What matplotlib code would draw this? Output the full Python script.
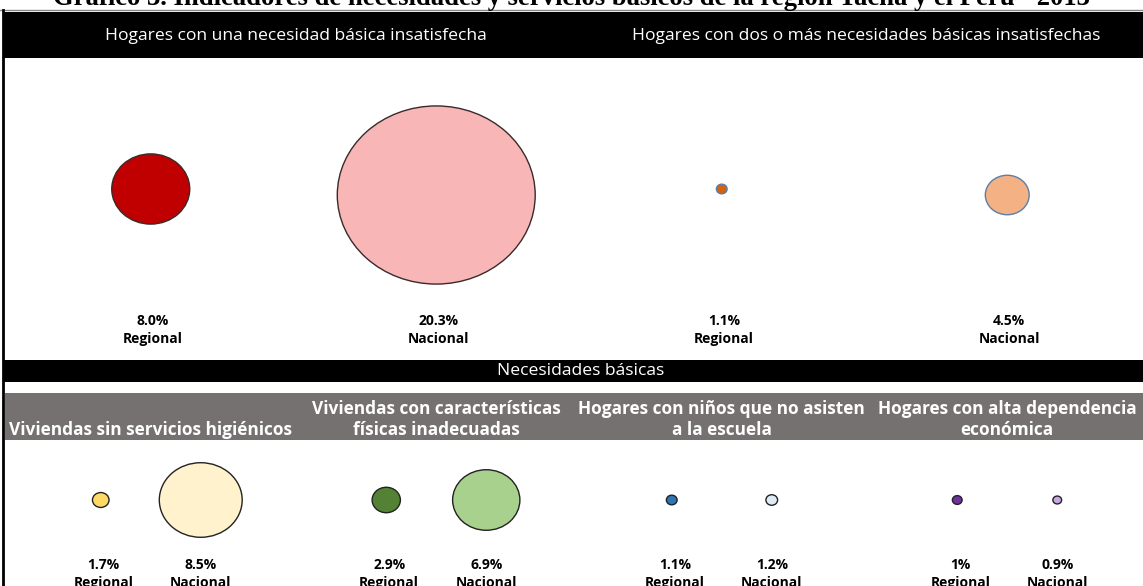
import matplotlib
matplotlib.use("Agg")
import matplotlib.pyplot as plt
from matplotlib.patches import Ellipse, Rectangle

plt.rcParams['font.family'] = ['Open Sans', 'DejaVu Sans']

# data
title = "Gráfico 3. Indicadores de necesidades y servicios básicos de la región Tacna y el Perú - 2013"
top_groups = ["Hogares con una necesidad básica insatisfecha",
              "Hogares con dos o más necesidades básicas insatisfechas"]
top_regional = [8.0, 1.1]
top_nacional = [20.3, 4.5]
top_reg_labels = ["8.0%", "1.1%"]
top_nac_labels = ["20.3%", "4.5%"]
top_reg_colors = ["#C00000", "#D4620F"]
top_nac_colors = ["#F8B6B6", "#F4B183"]
top_edges = ["#3a2a2a", "#5B7FA8"]

band_title = "Necesidades básicas"
bottom_cats = ["Viviendas sin servicios higiénicos",
               "Viviendas con características\nfísicas inadecuadas",
               "Hogares con niños que no asisten\na la escuela",
               "Hogares con alta dependencia\neconómica"]
bottom_regional = [1.7, 2.9, 1.1, 1.0]
bottom_nacional = [8.5, 6.9, 1.2, 0.9]
bottom_reg_labels = ["1.7%", "2.9%", "1.1%", "1%"]
bottom_nac_labels = ["8.5%", "6.9%", "1.2%", "0.9%"]
bottom_reg_colors = ["#FFD966", "#548235", "#2E75B6", "#7030A0"]
bottom_nac_colors = ["#FFF2CC", "#A9D18E", "#DEEBF7", "#C9A6E2"]

W, H = 1143, 586
fig = plt.figure(figsize=(W / 100, H / 100), dpi=100)
ax = fig.add_axes([0, 0, 1, 1])
ax.set_xlim(0, W)
ax.set_ylim(H, 0)
ax.axis('off')

k = 9.75      # pixels of diameter per percentage point
squash = 0.9  # bubbles are drawn slightly flattened
col_w = 285.5
cols = [8 + (i + 0.5) * col_w for i in range(4)]


def bubble(x, y, v, fc, ec):
    d = v * k
    ax.add_patch(Ellipse((x, y), d, d * squash, facecolor=fc, edgecolor=ec, lw=1.0, zorder=3))


def label(x, y, val, name):
    ax.text(x, y, val, ha='center', va='center', fontsize=10, fontweight='bold', color='black')
    ax.text(x, y + 18, name, ha='center', va='center', fontsize=10, fontweight='bold', color='black')


# title (cut off at top like the source)
ax.text(571, 5, title, ha='center', va='baseline', fontsize=19.2, fontweight='bold',
        family='Liberation Serif', clip_on=False)

# frame lines
ax.plot([0, W], [10, 10], color='#888888', lw=1.0)
ax.plot([3, 3], [10, H], color='black', lw=2.0)

# top header
ax.add_patch(Rectangle((3, 12), W, 46, facecolor='black', edgecolor='none'))
for i, g in enumerate(top_groups):
    xc = (cols[2 * i] + cols[2 * i + 1]) / 2
    ax.text(xc + 2, 36, g, ha='center', va='center', color='white', fontsize=12.6)

# top bubbles
for i in range(2):
    xr, xn = cols[2 * i], cols[2 * i + 1]
    bubble(xr, 189, top_regional[i], top_reg_colors[i], top_edges[i])
    bubble(xn, 195, top_nacional[i], top_nac_colors[i], top_edges[i])
    label(xr + 2, 321, top_reg_labels[i], "Regional")
    label(xn + 2, 321, top_nac_labels[i], "Nacional")

# middle band
ax.add_patch(Rectangle((3, 360), W, 22, facecolor='black', edgecolor='none'))
ax.text(581, 371, band_title, ha='center', va='center', color='white', fontsize=12.6)

# gray category band
ax.add_patch(Rectangle((5, 393), W, 47, facecolor='#767171', edgecolor='none'))
for i, c in enumerate(bottom_cats):
    ax.text(cols[i], 439, c, ha='center', va='bottom', color='white', fontsize=12.4,
            fontweight='bold', linespacing=1.2)

# bottom bubbles
off = 50
for i in range(4):
    xr, xn = cols[i] - off, cols[i] + off
    bubble(xr, 500, bottom_regional[i], bottom_reg_colors[i], '#222222')
    bubble(xn, 500, bottom_nacional[i], bottom_nac_colors[i], '#222222')
    label(xr + 3, 565, bottom_reg_labels[i], "Regional")
    label(xn, 565, bottom_nac_labels[i], "Nacional")

fig.savefig("out.png", dpi=100)
